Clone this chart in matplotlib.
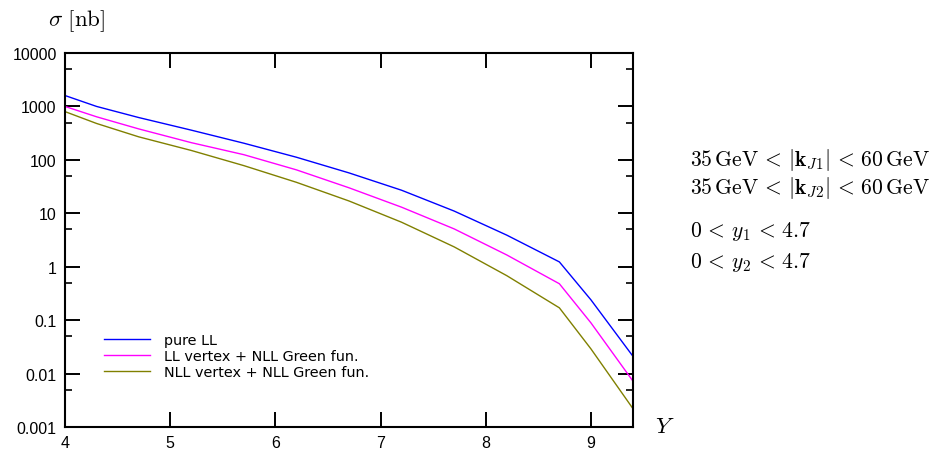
import matplotlib
matplotlib.use("Agg")
import matplotlib.pyplot as plt
from matplotlib.ticker import FixedLocator, NullFormatter

plt.rcParams['mathtext.fontset'] = 'cm'

Y = [4.0, 4.3, 4.7, 5.2, 5.7, 6.2, 6.7, 7.2, 7.7, 8.2, 8.7, 9.0, 9.4]
pure_LL = [1600, 1000, 620, 360, 205, 112, 57, 27, 11, 3.9, 1.23, 0.24, 0.021]
LL_vertex_NLL_green = [1000, 640, 380, 210, 125, 65, 30, 13, 5.1, 1.66, 0.48, 0.089, 0.0072]
NLL_vertex_NLL_green = [800, 480, 270, 150, 78, 38, 17, 6.8, 2.35, 0.68, 0.17, 0.029, 0.0022]

xticks = [4, 5, 6, 7, 8, 9]
yticks = [0.001, 0.01, 0.1, 1, 10, 100, 1000, 10000]
ytick_labels = ["0.001", "0.01", "0.1", "1", "10", "100", "1000", "10000"]

fig = plt.figure(figsize=(9.30, 4.52), dpi=100)
ax = fig.add_axes([65/930, 1-428/452, (633-65)/930, (428-54)/452])

ax.plot(Y, pure_LL, color='#0000ff', lw=1.0, label='pure LL')
ax.plot(Y, LL_vertex_NLL_green, color='#ff00ff', lw=1.0, label='LL vertex + NLL Green fun.')
ax.plot(Y, NLL_vertex_NLL_green, color='#808000', lw=1.0, label='NLL vertex + NLL Green fun.')

ax.set_yscale('log')
ax.set_xlim(4, 9.4)
ax.set_ylim(0.001, 10000)
ax.set_xticks(xticks)
ax.set_xticklabels([str(t) for t in xticks])
ax.yaxis.set_major_locator(FixedLocator(yticks))
ax.set_yticklabels(ytick_labels)
minors = [5 * 10.0**k for k in range(-3, 4)]
ax.yaxis.set_minor_locator(FixedLocator(minors))
ax.yaxis.set_minor_formatter(NullFormatter())

for s in ax.spines.values():
    s.set_linewidth(1.5)
ax.tick_params(which='major', direction='in', length=11, width=1.4,
               top=True, right=True, labelsize=11.5, pad=6)
ax.tick_params(which='minor', direction='in', length=5, width=1.2,
               top=False, right=True)
for lab in ax.get_xticklabels() + ax.get_yticklabels():
    lab.set_fontfamily('Liberation Sans')

leg = ax.legend(loc='lower left', bbox_to_anchor=(0.045, 0.093), frameon=False,
                handlelength=3.2, handletextpad=1.0, labelspacing=0.15,
                prop={'family': 'DejaVu Sans', 'size': 10.4})

fig.text(48/930, 1-21/452, r'$\sigma\ [\mathrm{nb}]$', fontsize=16.5, va='center', ha='left')
fig.text(655/930, 1-427/452, r'$Y$', fontsize=16.5, va='center', ha='left')

fs = 15.6
fig.text(690/930, 1-160/452, r'$35\,\mathrm{GeV}\,<\,|\mathbf{k}_{J1}|\,<\,60\,\mathrm{GeV}$', fontsize=fs, va='center', ha='left')
fig.text(690/930, 1-188/452, r'$35\,\mathrm{GeV}\,<\,|\mathbf{k}_{J2}|\,<\,60\,\mathrm{GeV}$', fontsize=fs, va='center', ha='left')
fig.text(690/930, 1-232/452, r'$0\,<\,y_1\,<\,4.7$', fontsize=fs, va='center', ha='left')
fig.text(690/930, 1-263/452, r'$0\,<\,y_2\,<\,4.7$', fontsize=fs, va='center', ha='left')

fig.savefig('out.png', dpi=100)
